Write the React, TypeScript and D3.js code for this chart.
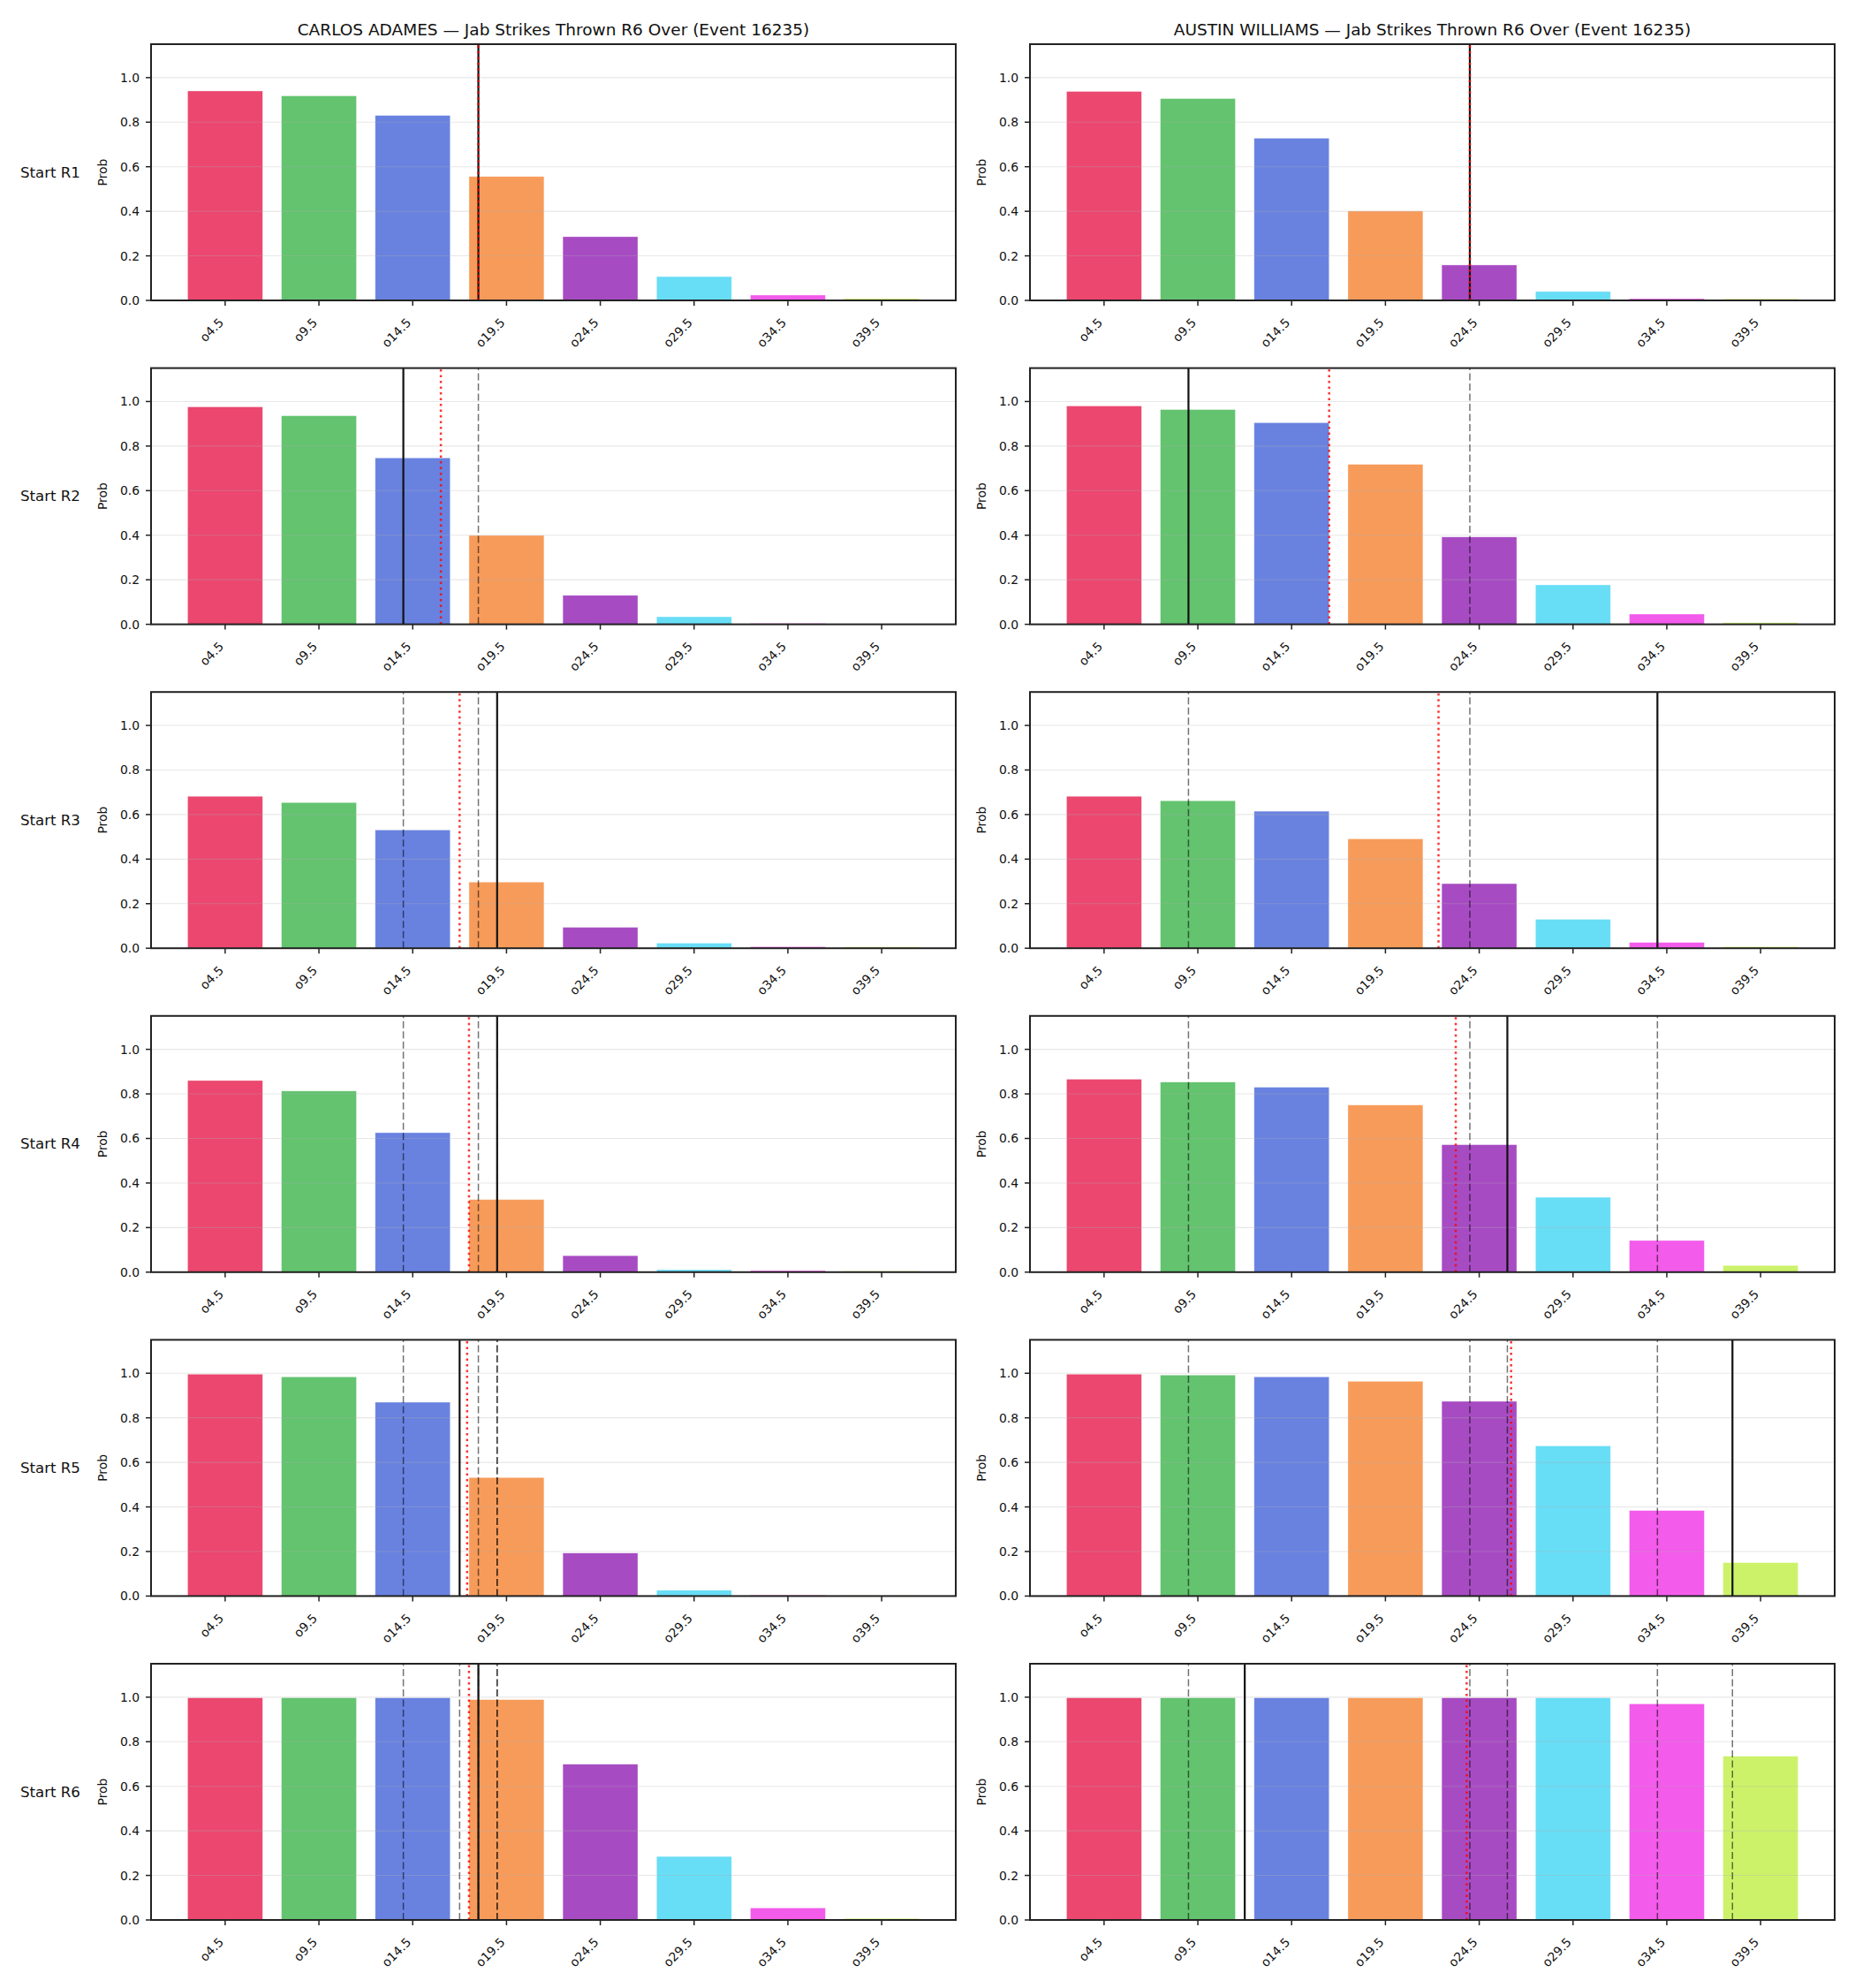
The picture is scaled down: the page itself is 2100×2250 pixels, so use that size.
import * as d3 from 'd3';

const FIG_W = 2100;
const FIG_H = 2250;
const AX_LEFTS = [171, 1166];
const AX_W = 911;
const AX_H = 290;
const ROW_TOP0 = 50;
const ROW_STEP = 366.6;
const FONT = 'DejaVu Sans, sans-serif';

const thresholdLabels = ['o4.5', 'o9.5', 'o14.5', 'o19.5', 'o24.5', 'o29.5', 'o34.5', 'o39.5'];
const thresholdLines = [4.5, 9.5, 14.5, 19.5, 24.5, 29.5, 34.5, 39.5];
const barColors = ['#e6194b', '#3cb44b', '#4363d8', '#f58231', '#911eb4', '#42d4f4', '#f032e6', '#bfef45'];
const roundLabels = ['Start R1', 'Start R2', 'Start R3', 'Start R4', 'Start R5', 'Start R6'];
const yTickValues = [0, 0.2, 0.4, 0.6, 0.8, 1.0];
const fighters = ['CARLOS ADAMES', 'AUSTIN WILLIAMS'];
const marketTitle = 'Jab Strikes Thrown R6 Over (Event 16235)';

// P(over) per starting round, one row per round
const adamesProbs = [
  [0.940, 0.918, 0.830, 0.556, 0.286, 0.107, 0.024, 0.008],
  [0.976, 0.936, 0.747, 0.399, 0.130, 0.034, 0.004, 0.002],
  [0.682, 0.654, 0.531, 0.297, 0.094, 0.023, 0.007, 0.006],
  [0.860, 0.813, 0.626, 0.326, 0.074, 0.011, 0.007, 0.005],
  [0.996, 0.984, 0.870, 0.532, 0.193, 0.026, 0.004, 0.002],
  [0.997, 0.997, 0.997, 0.989, 0.699, 0.285, 0.054, 0.007],
];
const williamsProbs = [
  [0.938, 0.906, 0.728, 0.401, 0.159, 0.040, 0.008, 0.007],
  [0.980, 0.964, 0.905, 0.718, 0.392, 0.177, 0.046, 0.007],
  [0.682, 0.662, 0.615, 0.491, 0.290, 0.130, 0.026, 0.007],
  [0.866, 0.853, 0.830, 0.750, 0.572, 0.336, 0.142, 0.030],
  [0.996, 0.992, 0.984, 0.964, 0.874, 0.674, 0.384, 0.150],
  [0.997, 0.997, 0.997, 0.997, 0.997, 0.997, 0.970, 0.735],
];

// strikes in each round (solid black), running average (red dotted)
const adamesActual = [18, 14, 19, 19, 17, 18];
const williamsActual = [24, 9, 34, 26, 38, 12];
const adamesAvg = [18, 16, 17, 17.5, 17.4, 17.5];
const williamsAvg = [24, 16.5, 22.33, 23.25, 26.2, 23.83];

const probsByFighter = [adamesProbs, williamsProbs];
const actualByFighter = [adamesActual, williamsActual];
const avgByFighter = [adamesAvg, williamsAvg];

interface PanelProps {
  left: number;
  top: number;
  probs: number[];
  actual: number;
  avg: number;
  prior: number[];
  title?: string;
  rowLabel?: string;
}

function Panel({ left, top, probs, actual, avg, prior, title, rowLabel }: PanelProps) {
  const x = d3.scaleLinear().domain([-0.79, 7.79]).range([0, AX_W]);
  const strikes = d3.scaleLinear()
    .domain([thresholdLines[0], thresholdLines[thresholdLines.length - 1]])
    .range([x(0), x(thresholdLines.length - 1)]);
  const y = d3.scaleLinear().domain([0, 1.15]).range([AX_H, 0]);
  const barW = x(0.8) - x(0);

  return (
    <g transform={`translate(${left},${top})`}>
      {title && (
        <text x={AX_W / 2} y={-10} textAnchor="middle" fontSize={18.5} fill="#111" fontFamily={FONT}>
          {title}
        </text>
      )}
      {rowLabel && (
        <text x={23 - left} y={AX_H / 2} dominantBaseline="central" fontSize={16.6} fill="#111" fontFamily={FONT}>
          {rowLabel}
        </text>
      )}
      <text
        transform={`translate(-55,${AX_H / 2}) rotate(-90)`}
        textAnchor="middle"
        dominantBaseline="central"
        fontSize={13.9}
        fill="#111"
        fontFamily={FONT}
      >
        Prob
      </text>

      {/* bars */}
      {probs.map((p, i) => (
        <rect
          key={i}
          x={x(i) - barW / 2}
          y={y(p)}
          width={barW}
          height={y(0) - y(p)}
          fill={barColors[i]}
          fillOpacity={0.8}
          stroke="#fff"
          strokeOpacity={0.6}
          strokeWidth={0.6}
        />
      ))}

      {/* y grid */}
      {yTickValues.map((v) => (
        <line key={v} x1={0} x2={AX_W} y1={y(v)} y2={y(v)} stroke="#b0b0b0" strokeOpacity={0.3} strokeWidth={1.1} />
      ))}

      {/* earlier rounds */}
      {prior.map((v, i) => (
        <line
          key={`p${i}`}
          x1={strikes(v)} x2={strikes(v)} y1={AX_H} y2={0}
          stroke="#000" strokeOpacity={0.55} strokeWidth={1.5} strokeDasharray="8,3.5"
        />
      ))}
      <line x1={strikes(actual)} x2={strikes(actual)} y1={AX_H} y2={0} stroke="#111" strokeWidth={2.2} />
      <line
        x1={strikes(avg)} x2={strikes(avg)} y1={AX_H} y2={0}
        stroke="#ff0000" strokeOpacity={0.8} strokeWidth={2.5} strokeDasharray="2.5,4"
      />

      {/* spines */}
      <rect x={0} y={0} width={AX_W} height={AX_H} fill="none" stroke="#222" strokeWidth={2} />

      {/* y axis */}
      {yTickValues.map((v) => (
        <g key={`yt${v}`}>
          <line x1={-6} x2={0} y1={y(v)} y2={y(v)} stroke="#222" strokeWidth={1.5} />
          <text x={-13} y={y(v)} textAnchor="end" dominantBaseline="central" fontSize={13.9} fill="#111" fontFamily={FONT}>
            {v.toFixed(1)}
          </text>
        </g>
      ))}

      {/* x axis */}
      {thresholdLabels.map((lab, i) => (
        <g key={lab}>
          <line x1={x(i)} x2={x(i)} y1={AX_H} y2={AX_H + 6} stroke="#222" strokeWidth={1.5} />
          <text
            transform={`translate(${x(i) - 1},${AX_H + 26}) rotate(-45)`}
            textAnchor="end"
            fontSize={13.9}
            fill="#111"
            fontFamily={FONT}
          >
            {lab}
          </text>
        </g>
      ))}
    </g>
  );
}

export default function App() {
  return (
    <>
      <style>{'body{margin:0;background:#fff}'}</style>
      <svg width={FIG_W} height={FIG_H} viewBox={`0 0 ${FIG_W} ${FIG_H}`} style={{ display: 'block', background: '#fff' }}>
        {roundLabels.map((rl, r) =>
          fighters.map((name, f) => (
            <Panel
              key={`${r}-${f}`}
              left={AX_LEFTS[f]}
              top={ROW_TOP0 + r * ROW_STEP}
              probs={probsByFighter[f][r]}
              actual={actualByFighter[f][r]}
              avg={avgByFighter[f][r]}
              prior={actualByFighter[f].slice(0, r)}
              title={r === 0 ? `${name} — ${marketTitle}` : undefined}
              rowLabel={f === 0 ? rl : undefined}
            />
          ))
        )}
      </svg>
    </>
  );
}
